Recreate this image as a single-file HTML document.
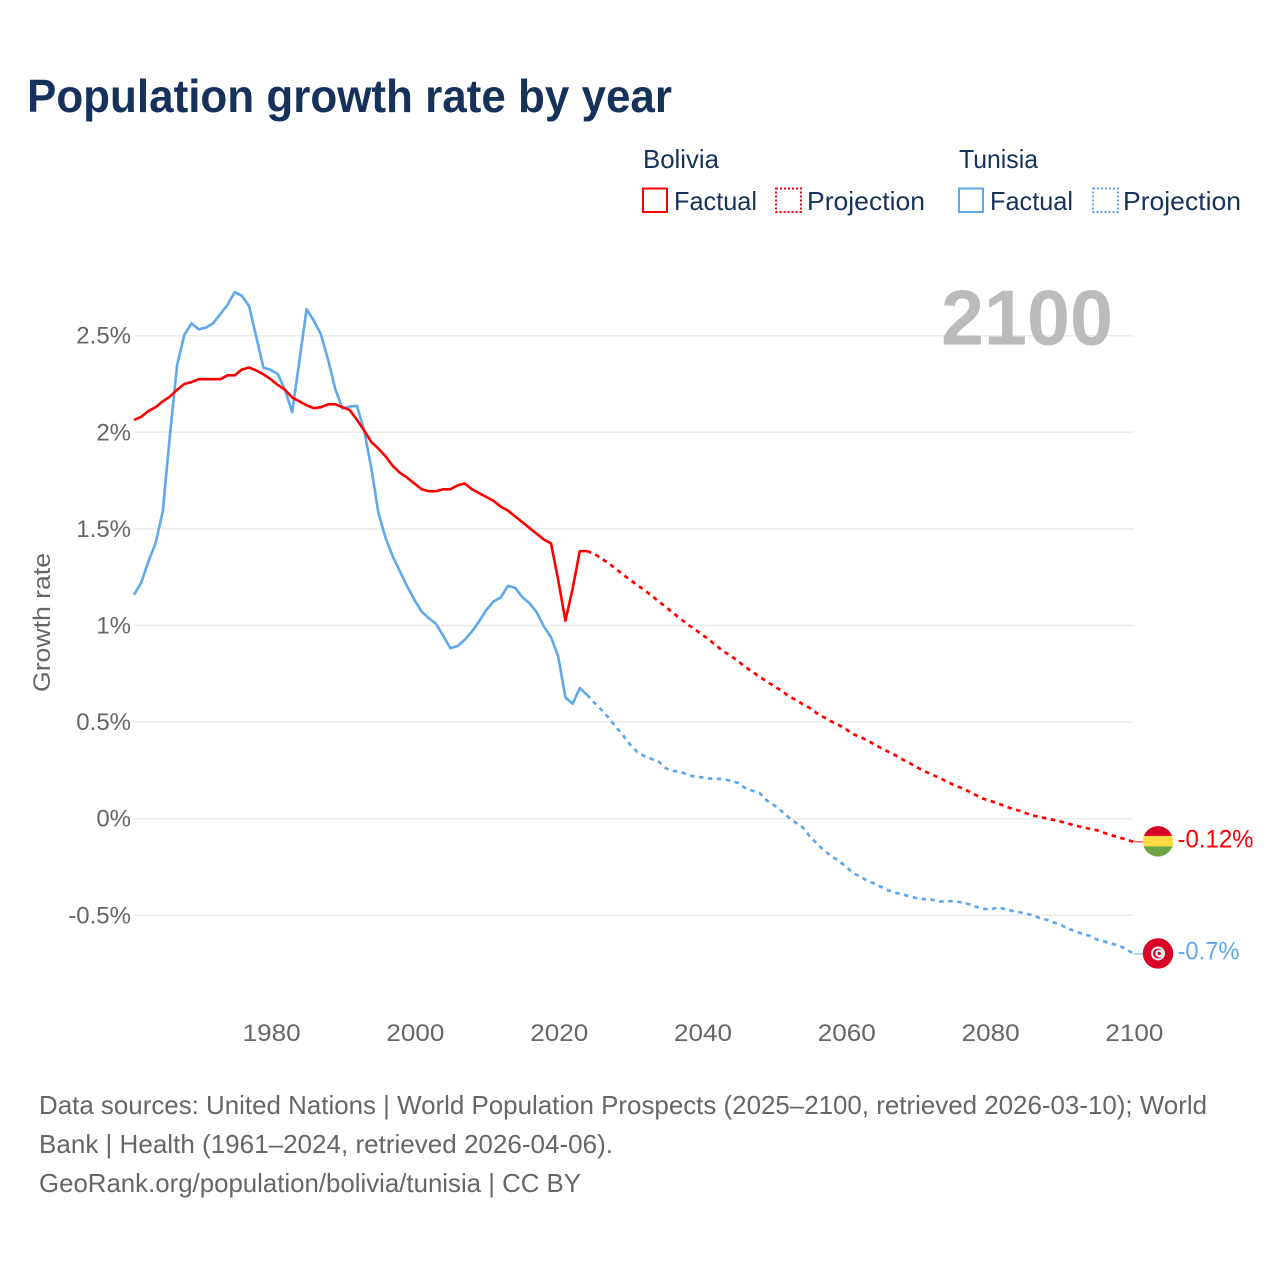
<!DOCTYPE html>
<html lang="en">
<head>
<meta charset="utf-8">
<title>Population growth rate by year</title>
<style>
html,body{margin:0;padding:0;background:#fff;}
#chart{display:block;width:1280px;height:1280px;font-family:"Liberation Sans",sans-serif;}
</style>
</head>
<body>
<svg id="chart" xmlns="http://www.w3.org/2000/svg" width="1280" height="1280" viewBox="0 0 1280 1280">
  <defs>
    <clipPath id="bolivia-clip"><circle cx="0" cy="0" r="15.2"/></clipPath>
  </defs>
  <rect x="0" y="0" width="1280" height="1280" fill="#fff"/>
  <text x="27" y="112" font-size="46" font-weight="700" fill="#17325a" textLength="645" lengthAdjust="spacingAndGlyphs">Population growth rate by year</text>

  <g font-size="26" fill="#17325a">
    <text x="643" y="168" textLength="76" lengthAdjust="spacingAndGlyphs">Bolivia</text>
    <rect x="643" y="188.5" width="24" height="23.5" fill="none" stroke="#ff0000" stroke-width="2"/>
    <text x="674" y="210" textLength="83" lengthAdjust="spacingAndGlyphs">Factual</text>
    <rect x="776" y="188.5" width="25" height="23.5" fill="none" stroke="#ff0000" stroke-width="2" stroke-dasharray="2 2"/>
    <text x="807" y="210" textLength="118" lengthAdjust="spacingAndGlyphs">Projection</text>
    <text x="959" y="168" textLength="79" lengthAdjust="spacingAndGlyphs">Tunisia</text>
    <rect x="959" y="188.5" width="24" height="23.5" fill="none" stroke="#5fa8ec" stroke-width="2"/>
    <text x="990" y="210" textLength="83" lengthAdjust="spacingAndGlyphs">Factual</text>
    <rect x="1093" y="188.5" width="25" height="23.5" fill="none" stroke="#5fa8ec" stroke-width="2" stroke-dasharray="2 2"/>
    <text x="1123" y="210" textLength="118" lengthAdjust="spacingAndGlyphs">Projection</text>
  </g>

  <g id="grid"></g>
  <text x="941" y="344.5" font-size="78" font-weight="700" fill="#bbbbbb" textLength="172" lengthAdjust="spacingAndGlyphs">2100</text>
  <text transform="translate(50,692) rotate(-90)" font-size="24" fill="#666" textLength="139" lengthAdjust="spacingAndGlyphs">Growth rate</text>
  <g id="yticks" font-size="24" fill="#666"></g>
  <g id="xticks" font-size="24" fill="#666"></g>
  <g id="series"></g>
  <g id="ends"></g>

  <g font-size="26" fill="#666">
    <text x="39" y="1114" textLength="1168" lengthAdjust="spacingAndGlyphs">Data sources: United Nations | World Population Prospects (2025–2100, retrieved 2026-03-10); World</text>
    <text x="39" y="1153" textLength="574" lengthAdjust="spacingAndGlyphs">Bank | Health (1961–2024, retrieved 2026-04-06).</text>
    <text x="39" y="1192" textLength="542" lengthAdjust="spacingAndGlyphs">GeoRank.org/population/bolivia/tunisia | CC BY</text>
  </g>
</svg>
<script>
const startYear = 1961;
const projectionStartYear = 2024;
const yTickValues = [-0.5, 0, 0.5, 1, 1.5, 2, 2.5];
const yTickLabels = ["-0.5%", "0%", "0.5%", "1%", "1.5%", "2%", "2.5%"];
const xTickValues = [1980, 2000, 2020, 2040, 2060, 2080, 2100];
const xTickLabels = ["1980", "2000", "2020", "2040", "2060", "2080", "2100"];
const boliviaFactual = [2.064,2.08,2.11,2.13,2.16,2.185,2.22,2.25,2.26,2.275,2.275,2.275,2.275,2.295,2.295,2.325,2.335,2.32,2.30,2.275,2.245,2.22,2.18,2.16,2.14,2.125,2.13,2.145,2.145,2.13,2.115,2.065,2.01,1.95,1.915,1.875,1.825,1.79,1.765,1.735,1.705,1.695,1.695,1.705,1.705,1.725,1.735,1.705,1.685,1.665,1.645,1.615,1.595,1.565,1.535,1.505,1.475,1.445,1.425,1.235,1.025,1.19,1.385,1.385];
const boliviaProjection = [1.385,1.371,1.347,1.323,1.293,1.264,1.236,1.209,1.183,1.154,1.124,1.095,1.064,1.035,1.005,0.981,0.953,0.926,0.895,0.866,0.843,0.816,0.786,0.761,0.735,0.71,0.686,0.664,0.636,0.616,0.593,0.573,0.545,0.524,0.503,0.485,0.464,0.438,0.423,0.405,0.384,0.364,0.345,0.326,0.304,0.285,0.264,0.245,0.228,0.211,0.194,0.174,0.16,0.143,0.124,0.105,0.093,0.081,0.067,0.053,0.043,0.029,0.017,0.009,0,-0.007,-0.016,-0.026,-0.036,-0.045,-0.053,-0.06,-0.074,-0.086,-0.097,-0.107,-0.12];
const tunisiaFactual = [1.159,1.222,1.331,1.426,1.59,1.987,2.349,2.504,2.564,2.533,2.542,2.564,2.611,2.659,2.725,2.707,2.654,2.495,2.335,2.323,2.302,2.219,2.104,2.369,2.637,2.578,2.507,2.375,2.223,2.123,2.133,2.137,2.012,1.816,1.581,1.452,1.357,1.279,1.202,1.133,1.072,1.038,1.009,0.947,0.883,0.893,0.926,0.969,1.021,1.081,1.124,1.145,1.205,1.195,1.147,1.116,1.069,0.995,0.94,0.84,0.628,0.595,0.676,0.641];
const tunisiaProjection = [0.641,0.602,0.564,0.523,0.476,0.433,0.384,0.345,0.324,0.309,0.295,0.26,0.247,0.242,0.228,0.217,0.214,0.208,0.207,0.204,0.197,0.185,0.159,0.145,0.133,0.095,0.071,0.041,0.008,-0.019,-0.045,-0.092,-0.129,-0.166,-0.195,-0.217,-0.247,-0.281,-0.3,-0.321,-0.336,-0.355,-0.372,-0.384,-0.393,-0.404,-0.412,-0.417,-0.419,-0.429,-0.428,-0.426,-0.433,-0.441,-0.454,-0.464,-0.472,-0.46,-0.466,-0.476,-0.483,-0.49,-0.5,-0.514,-0.524,-0.538,-0.552,-0.569,-0.585,-0.597,-0.607,-0.626,-0.636,-0.647,-0.657,-0.674,-0.7];
const endLabelBolivia = "-0.12%";
const endLabelTunisia = "-0.7%";

const NS = "http://www.w3.org/2000/svg";
const RED = "#ff0000";
const BLUE = "#5fa8ec";
function xScale(year) { return 134 + (year - 1961) * 7.19; }
function yScale(value) { return 818.7 - value * 193.2; }
function make(tag, attrs, parent, text) {
  const el = document.createElementNS(NS, tag);
  for (const k in attrs) el.setAttribute(k, attrs[k]);
  if (text !== undefined) el.textContent = text;
  parent.appendChild(el);
  return el;
}
function linePath(values, firstYear) {
  return values.map((v, i) => (i ? "L" : "M") + xScale(firstYear + i).toFixed(2) + " " + yScale(v).toFixed(2)).join(" ");
}

const gridGroup = document.getElementById("grid");
const yGroup = document.getElementById("yticks");
yTickValues.forEach((v, i) => {
  const line = make("line", { x1: 134, x2: 1133.5, y1: yScale(v), y2: yScale(v), stroke: "#ebebeb", "stroke-width": 1.5 }, gridGroup);
  
  
  const label = make("text", { x: 131, y: yScale(v) + 8, "text-anchor": "end" }, yGroup, yTickLabels[i]);
  
  
});

const xGroup = document.getElementById("xticks");
xTickValues.forEach((v, i) => {
  const label = make("text", { x: xScale(v) + 1, y: 1041, "text-anchor": "middle", textLength: 58, lengthAdjust: "spacingAndGlyphs" }, xGroup, xTickLabels[i]);
  
  
});

const seriesGroup = document.getElementById("series");
const tunFactualLine = make("path", { d: linePath(tunisiaFactual, startYear), fill: "none", stroke: BLUE, "stroke-width": 2.6, "stroke-linejoin": "round" }, seriesGroup);


const tunProjectionLine = make("path", { d: linePath(tunisiaProjection, projectionStartYear), fill: "none", stroke: BLUE, "stroke-width": 2.7, "stroke-dasharray": "4.5 4.5" }, seriesGroup);


const bolFactualLine = make("path", { d: linePath(boliviaFactual, startYear), fill: "none", stroke: RED, "stroke-width": 2.6, "stroke-linejoin": "round" }, seriesGroup);


const bolProjectionLine = make("path", { d: linePath(boliviaProjection, projectionStartYear), fill: "none", stroke: RED, "stroke-width": 2.7, "stroke-dasharray": "4.5 4.5" }, seriesGroup);



const endsGroup = document.getElementById("ends");
const bolY = yScale(boliviaProjection[boliviaProjection.length - 1]);
const tunY = yScale(tunisiaProjection[tunisiaProjection.length - 1]);

const bolLeader = make("line", { x1: 1133.5, x2: 1143, y1: bolY, y2: bolY, stroke: RED, "stroke-width": 1 }, endsGroup);


const tunLeader = make("line", { x1: 1133.5, x2: 1143, y1: tunY, y2: tunY, stroke: BLUE, "stroke-width": 1 }, endsGroup);



const bolFlag = make("g", { transform: "translate(1158," + (bolY - 0.5) + ")", "clip-path": "url(#bolivia-clip)" }, endsGroup);


make("rect", { x: -16, y: -16, width: 32, height: 11, fill: "#d80027" }, bolFlag);
make("rect", { x: -16, y: -5.5, width: 32, height: 11, fill: "#ffda44" }, bolFlag);
make("rect", { x: -16, y: 5, width: 32, height: 11, fill: "#6da544" }, bolFlag);

const tunFlag = make("g", { transform: "translate(1158," + (tunY - 0.5) + ")" }, endsGroup);


make("circle", { cx: 0, cy: 0, r: 15.2, fill: "#d80027" }, tunFlag);
make("circle", { cx: 0, cy: 0, r: 7, fill: "#f0f0f0" }, tunFlag);
make("circle", { cx: 0, cy: 0, r: 5, fill: "#d80027" }, tunFlag);
make("circle", { cx: 1.3, cy: 0, r: 4, fill: "#f0f0f0" }, tunFlag);
make("circle", { cx: 1.2, cy: 0, r: 1.6, fill: "#d80027" }, tunFlag);

const bolLabel = make("text", { x: 1177.5, y: bolY + 5.5, "font-size": 25, fill: RED, textLength: 76, lengthAdjust: "spacingAndGlyphs" }, endsGroup, endLabelBolivia);


const tunLabel = make("text", { x: 1177.5, y: tunY + 5.5, "font-size": 25, fill: BLUE, textLength: 62, lengthAdjust: "spacingAndGlyphs" }, endsGroup, endLabelTunisia);


</script>
</body>
</html>
